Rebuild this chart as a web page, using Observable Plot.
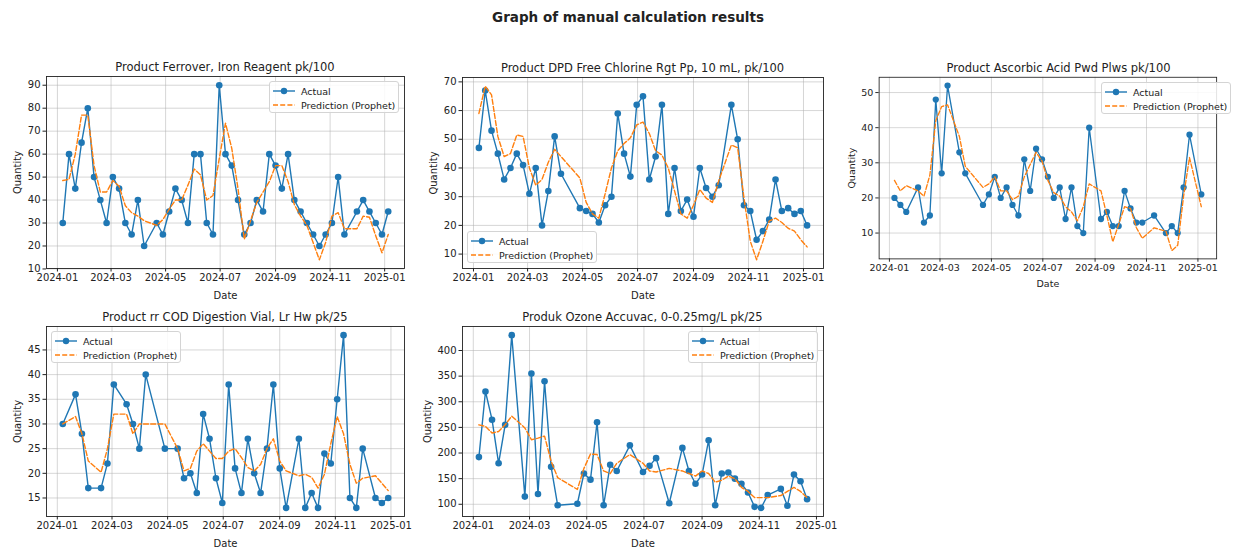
<!DOCTYPE html>
<html><head><meta charset="utf-8">
<script src="https://cdn.jsdelivr.net/npm/d3@7"></script>
<script src="https://cdn.jsdelivr.net/npm/@observablehq/plot@0.6"></script>
<style>
body{margin:0;background:#fff;}
#root{position:relative;width:1239px;height:547px;overflow:hidden;background:#fff;font-family:"DejaVu Sans",sans-serif;color:#222;}
.suptitle{position:absolute;font-size:13.5px;font-weight:bold;white-space:nowrap;transform:translate(-50%,-50%);}
.ptitle{position:absolute;font-size:11.5px;white-space:nowrap;transform:translate(-50%,-50%);}
.chart{position:absolute;}
.chart svg{overflow:visible;}
.legend{position:absolute;box-sizing:border-box;width:130px;height:32px;border:1px solid #d4d4d4;border-radius:3px;background:rgba(255,255,255,0.85);font-size:9.5px;padding:2px 0 0 3px;}
.legend .row{display:flex;align-items:center;height:14px;}
.legend svg{margin-right:6px;flex:none;}
</style></head><body><div id="root"></div>
<script>
// ---- categories: weekly dates (Sundays) ----
const sundays = ["2024-01-07","2024-01-14","2024-01-21","2024-01-28","2024-02-04","2024-02-11","2024-02-18","2024-02-25",
"2024-03-03","2024-03-10","2024-03-17","2024-03-24","2024-03-31","2024-04-07","2024-04-14","2024-04-21","2024-04-28",
"2024-05-05","2024-05-12","2024-05-19","2024-05-26","2024-06-02","2024-06-09","2024-06-16","2024-06-23","2024-06-30",
"2024-07-07","2024-07-14","2024-07-21","2024-07-28","2024-08-04","2024-08-11","2024-08-18","2024-08-25","2024-09-01",
"2024-09-08","2024-09-15","2024-09-22","2024-09-29","2024-10-06","2024-10-13","2024-10-20","2024-10-27","2024-11-03",
"2024-11-10","2024-11-17","2024-11-24","2024-12-01","2024-12-08","2024-12-15","2024-12-22","2024-12-29","2025-01-05"];
const xTicks = ["2024-01-01","2024-03-01","2024-05-01","2024-07-01","2024-09-01","2024-11-01","2025-01-01"];

// ---- Product Ferrover ----
const ferroverWeeks = [0,1,2,3,4,5,6,7,8,9,10,11,12,13,15,16,17,18,19,20,21,22,23,24,25,26,27,28,29,30,31,32,33,34,35,36,37,38,39,40,41,42,43,44,45,47,48,49,50,51,52];
const ferroverActual = [30,60,45,65,80,50,40,30,50,45,30,25,40,20,30,25,35,45,40,30,60,60,30,25,90,60,55,40,25,30,40,35,60,55,45,60,40,35,30,25,20,25,30,50,25,35,40,35,30,25,35];
const ferroverPred = [48.5,49,60,77,77,55,43.5,43.5,48.5,46,37.5,34.5,33,31,29,31.5,36,40,40,46.5,53.5,51,40,42,58,73.5,62.5,45,23,31,39,43.5,48,55,55,48,38,33,29,21.5,14,21.5,33,34.5,27.5,27.5,33,32.5,24.5,17,25];
const ferroverYTicks = [10,20,30,40,50,60,70,80,90];

// ---- Product DPD Free Chlorine ----
const dpdWeeks = [0,1,2,3,4,5,6,7,8,9,10,11,12,13,16,17,18,19,20,21,22,23,24,25,26,27,28,29,30,31,32,33,34,35,36,37,38,40,41,42,43,44,45,46,47,48,49,50,51,52];
const dpdActual = [47,67,53,45,36,40,45,41,31,40,20,32,51,38,26,25,24,21,27,30,59,45,37,62,65,36,44,62,24,40,25,29,23,40,33,30,34,62,50,27,25,15,18,22,36,25,26,24,25,20];
const dpdPred = [59,68.5,65.5,51,44,45,51.5,51,40,34,36,42,46.5,44,36.5,28,24,22.5,31,40,46,48.5,50.5,55,56,52,46,44.5,40,32,24,22.5,27,32.5,29.5,28,35.5,48,47,29.5,14.5,8,14.5,21.5,22.5,21,19,18,15,12.5];
const dpdYTicks = [10,20,30,40,50,60,70];

// ---- Product Ascorbic Acid ----
const ascorbicWeeks = [0,1,2,4,5,6,7,8,9,11,12,15,16,17,18,19,20,21,22,23,24,25,26,27,28,29,30,31,32,33,35,36,37,38,39,40,41,42,44,46,47,48,49,50,52];
const ascorbicActual = [20,18,16,23,13,15,48,27,52,33,27,18,21,26,20,23,18,15,31,22,34,31,26,20,23,14,23,12,10,40,14,16,12,12,22,17,13,13,15,10,12,10,23,38,21];
const ascorbicPred = [25,22,23.5,22,20.5,26.5,42,46,46.5,37.5,29,23,24,26,22,22,19.5,20.5,26,29.5,33,30.5,25,21.5,20.5,17.5,16,13.5,17.5,24,22,15,7.5,12.5,17.5,17,11.5,8.5,11.5,10.5,5,6.5,20.5,31.5,17.5];
const ascorbicYTicks = [10,20,30,40,50];

// ---- Product COD Digestion Vial ----
const codWeeks = [0,2,3,4,6,7,8,10,11,12,13,16,18,19,20,21,22,23,24,25,26,27,28,29,30,31,32,33,34,35,37,38,39,40,41,42,43,44,45,46,47,49,50,51];
const codActual = [30,36,28,17,17,22,38,34,30,25,40,25,25,19,20,16,32,27,19,14,38,21,16,27,20,16,25,38,21,13,27,13,16,13,24,22,35,48,15,13,25,15,14,15];
const codPred = [30,31.5,28,22.5,20.2,25,32,32,28,30,30,30,25,20.5,21,24.5,26,24.5,23,23,24.5,25,23.2,21.2,20.5,21.8,25,27,22.5,20.5,19.5,19.8,19.2,17,19.8,26,31.5,28,21.8,18,19,19.5,18,16.5];
const codYTicks = [15,20,25,30,35,40,45];

// ---- Produk Ozone Accuvac ----
const ozoneWeeks = [0,1,2,3,4,5,7,8,9,10,11,12,15,16,17,18,19,20,21,23,25,26,27,29,31,32,33,34,35,36,37,38,39,40,41,42,43,44,46,47,48,49,50];
const ozoneActual = [192,320,265,180,255,430,115,355,120,340,173,98,101,160,148,260,98,177,165,215,163,175,190,102,210,165,140,158,225,98,160,162,150,140,123,95,93,118,130,97,158,145,110];
const ozonePred = [255,252,239,242,255,272,249,226,229,233,184,152,129,170,198,197,165,160,180,197,180,165,163,170,165,160,155,165,160,143,147,155,150,133,125,113,113,113,117,125,133,125,113];
const ozoneYTicks = [100,150,200,250,300,350,400];

const titles = ["Product Ferrover, Iron Reagent pk/100","Product DPD Free Chlorine Rgt Pp, 10 mL, pk/100","Product Ascorbic Acid Pwd Plws pk/100","Product rr COD Digestion Vial, Lr Hw pk/25","Produk Ozone Accuvac, 0-0.25mg/L pk/25"];

// layout (frame boxes in page px)
const panels = [
  {title:titles[0], weeks:ferroverWeeks, actual:ferroverActual, pred:ferroverPred, yTicks:ferroverYTicks, frame:[46,76,404,268], legend:"ur", yOff:33},
  {title:titles[1], weeks:dpdWeeks, actual:dpdActual, pred:dpdPred, yTicks:dpdYTicks, frame:[462,77,823,268], legend:"ll", yOff:33},
  {title:titles[2], weeks:ascorbicWeeks, actual:ascorbicActual, pred:ascorbicPred, yTicks:ascorbicYTicks, frame:[881,77,1236,268], legend:"ur", yOff:33},
  {title:titles[3], weeks:codWeeks, actual:codActual, pred:codPred, yTicks:codYTicks, frame:[46,326,404,516], legend:"ul", yOff:33},
  {title:titles[4], weeks:ozoneWeeks, actual:ozoneActual, pred:ozonePred, yTicks:ozoneYTicks, frame:[462,326,823,516], legend:"ur", yOff:39}
];

const root = document.getElementById("root");
const sup = document.createElement("div");
sup.className = "suptitle"; sup.textContent = "Graph of manual calculation results";
sup.style.left = "628px"; sup.style.top = "17px";
root.appendChild(sup);

const BLUE = "#1f77b4", ORANGE = "#ff7f0e";
const xTickDates = xTicks.map(s => new Date(s));

for (const p of panels) {
  const rows = p.weeks.map((w, i) => ({date: new Date(sundays[w]), actual: p.actual[i], pred: p.pred[i]}));
  const t0 = d3.min(rows, d => d.date), t1 = d3.max(rows, d => d.date);
  const tp = (t1 - t0) * 0.05;
  const vals = rows.flatMap(d => [d.actual, d.pred]);
  const y0 = d3.min(vals), y1 = d3.max(vals), yp = (y1 - y0) * 0.05;
  const [fl, ft, fr, fb] = p.frame;
  const mL = 48, mR = 24, mT = 4, mB = 36;
  const chart = Plot.plot({
    width: fr - fl + mL + mR, height: fb - ft + mT + mB,
    marginLeft: mL, marginRight: mR, marginTop: mT, marginBottom: mB,
    style: {fontFamily: '"DejaVu Sans", sans-serif', fontSize: "10px", color: "#222", background: "transparent"},
    x: {type: "utc", domain: [new Date(+t0 - tp), new Date(+t1 + tp)]},
    y: {domain: [y0 - yp, y1 + yp]},
    marks: [
      Plot.gridX(xTickDates, {stroke: "#b0b0b0", strokeOpacity: 0.65, strokeWidth: 0.8}),
      Plot.gridY(p.yTicks, {stroke: "#b0b0b0", strokeOpacity: 0.65, strokeWidth: 0.8}),
      Plot.axisX(xTickDates, {tickFormat: d3.utcFormat("%Y-%m"), tickSize: 3.5, tickPadding: 2, label: "Date", labelAnchor: "center", labelArrow: "none", labelOffset: 30}),
      Plot.axisY(p.yTicks, {tickSize: 3.5, tickPadding: 2.5, label: "Quantity", labelAnchor: "center", labelArrow: "none", labelOffset: p.yOff}),
      Plot.lineY(rows, {x: "date", y: "actual", stroke: BLUE, strokeWidth: 1.4}),
      Plot.dot(rows, {x: "date", y: "actual", r: 3.3, fill: BLUE, stroke: "none"}),
      Plot.lineY(rows, {x: "date", y: "pred", stroke: ORANGE, strokeWidth: 1.4, strokeDasharray: "5,2.2"}),
      Plot.frame({stroke: "#222", strokeWidth: 0.9})
    ]
  });
  const wrap = document.createElement("div");
  wrap.className = "chart";
  wrap.style.left = (fl - mL) + "px"; wrap.style.top = (ft - mT) + "px";
  wrap.appendChild(chart);
  root.appendChild(wrap);

  const t = document.createElement("div");
  t.className = "ptitle"; t.textContent = p.title;
  t.style.left = ((fl + fr) / 2) + "px"; t.style.top = (ft - 9) + "px";
  root.appendChild(t);

  const lg = document.createElement("div");
  lg.className = "legend";
  const pad = 5, lw = 130, lh = 32;
  const lx = p.legend.endsWith("r") ? fr - pad - lw : fl + pad;
  const ly = p.legend.startsWith("u") ? ft + pad : fb - pad - lh;
  lg.style.left = lx + "px"; lg.style.top = ly + "px";
  lg.innerHTML =
    `<div class="row"><svg width="22" height="10"><line x1="0" x2="22" y1="5" y2="5" stroke="${BLUE}" stroke-width="1.4"/><circle cx="11" cy="5" r="3.2" fill="${BLUE}"/></svg><span>Actual</span></div>` +
    `<div class="row"><svg width="22" height="10"><line x1="0" x2="22" y1="5" y2="5" stroke="${ORANGE}" stroke-width="1.4" stroke-dasharray="5,2.2"/></svg><span>Prediction (Prophet)</span></div>`;
  root.appendChild(lg);
}
</script></body></html>
